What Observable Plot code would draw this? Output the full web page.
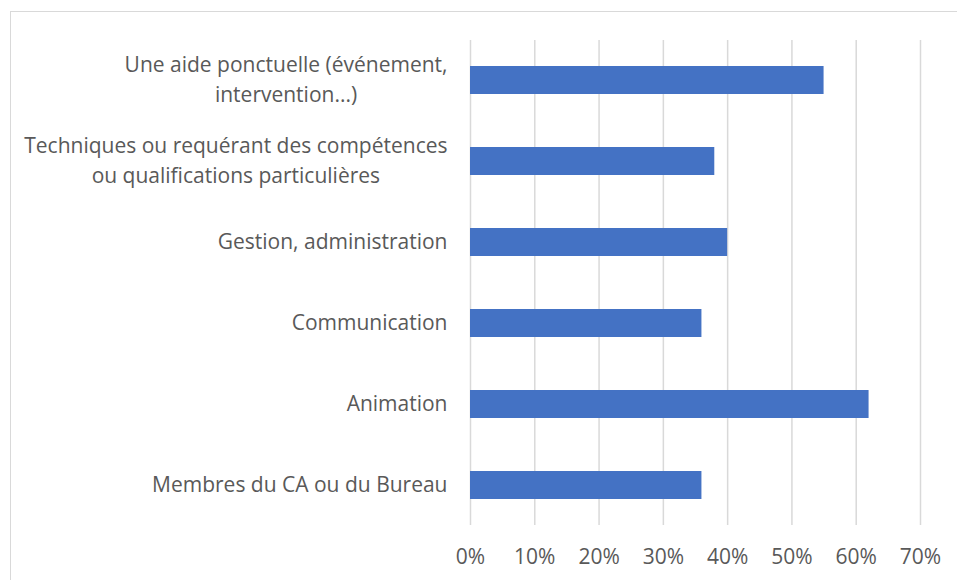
<!DOCTYPE html>
<html>
<head>
<meta charset="utf-8">
<script src="https://cdn.jsdelivr.net/npm/d3@7"></script>
<script src="https://cdn.jsdelivr.net/npm/@observablehq/plot@0.6"></script>
<style>
  html, body { margin: 0; padding: 0; background: #fff; overflow: hidden; }
  #wrap { position: relative; width: 957px; height: 580px; }
  #border { position: absolute; left: 10px; top: 11px; width: 1000px; height: 640px; border: 1px solid #d9d9d9; box-sizing: border-box; pointer-events: none; }
  #chart { position: absolute; left: 0; top: 0; }
</style>
</head>
<body>
<div id="wrap"><div id="border"></div><div id="chart"></div></div>
<script>
const categories = [
  "Une aide ponctuelle (événement,\nintervention...)",
  "Techniques ou requérant des compétences\nou qualifications particulières",
  "Gestion, administration",
  "Communication",
  "Animation",
  "Membres du CA ou du Bureau"
];
const values = [0.55, 0.38, 0.40, 0.36, 0.62, 0.36];
const xTicks = [0, 0.1, 0.2, 0.3, 0.4, 0.5, 0.6, 0.7];

const data = categories.map((c, i) => ({category: c, value: values[i]}));
const FONT = "'Open Sans', sans-serif";
const TEXT = "#595959";

const chart = Plot.plot({
  width: 957,
  height: 580,
  marginLeft: 470,
  marginRight: 37,
  marginTop: 40,
  marginBottom: 55,
  style: {fontFamily: FONT, fontSize: "21px", color: TEXT, background: "transparent"},
  x: {domain: [0, 0.7], ticks: xTicks, tickFormat: d3.format(".0%")},
  y: {domain: categories, paddingInner: 0.654, paddingOuter: 0.31, axis: null},
  marks: [
    Plot.gridX(xTicks, {stroke: "#d9d9d9", strokeOpacity: 1, strokeWidth: 1.5}),
    Plot.barX(data, {y: "category", x: "value", fill: "#4472C4"}),
    Plot.axisX({ticks: xTicks, tickSize: 0, tickPadding: 24, tickFormat: d3.format(".0%"), fontSize: 21, fill: TEXT, label: null}),
    Plot.text(data, {y: "category", text: "category", frameAnchor: "left", textAnchor: "end", dx: -23, dy: -3, lineHeight: 1.4, fontSize: 21, fill: TEXT, className: "ylab"})
  ]
});
document.getElementById("chart").appendChild(chart);

// center multi-line labels within their block, keeping right edge aligned
chart.querySelectorAll(".ylab text").forEach(t => {
  const spans = t.querySelectorAll("tspan");
  if (spans.length > 1) {
    const w = t.getBBox().width;
    t.setAttribute("text-anchor", "middle");
    const x0 = +(t.getAttribute("x") || 0);
    spans.forEach(s => s.setAttribute("x", x0 - w / 2));
  }
});
</script>
</body>
</html>
